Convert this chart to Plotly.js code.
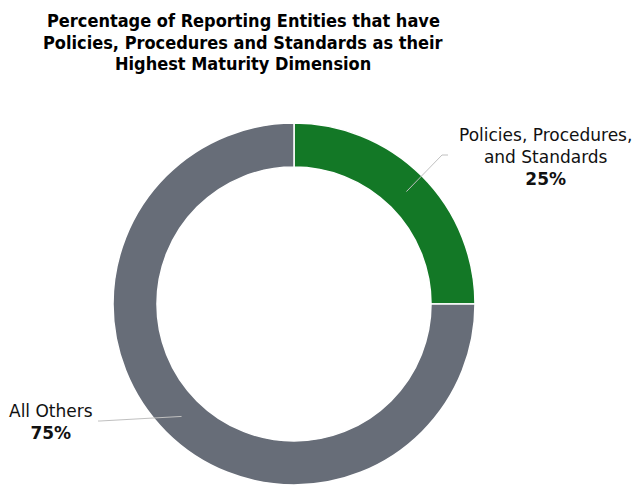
<!DOCTYPE html>
<html>
<head>
<meta charset="utf-8">
<script src="https://cdn.plot.ly/plotly-3.0.1.min.js"></script>
<style>html,body{margin:0;padding:0;background:#fff;}#chart{width:633px;height:485px;}</style>
</head>
<body>
<div id="chart"></div>
<script>
// Data
const categories = ["Policies, Procedures,<br>and Standards", "All Others"];
const values = [25, 75];
const valueLabels = ["25%", "75%"];
const colors = ["#137826", "#676d78"];
const titleLines = [
  "Percentage of Reporting Entities that have",
  "Policies, Procedures and Standards as their",
  "Highest Maturity Dimension"
];

// Geometry (pixels)
const W = 633, H = 485;
const cx = 294, cy = 304, R = 181;
const hole = 0.757;
const px = x => x / W;
const py = y => 1 - y / H;

// slice midpoints (clockwise from 12 o'clock)
const total = values.reduce((a, b) => a + b, 0);
let acc = 0;
const mids = values.map(v => {
  const frac = (acc + v / 2) / total;
  acc += v;
  const ang = frac * 2 * Math.PI;
  const rm = R * (1 + hole) / 2;
  return [cx + rm * Math.sin(ang), cy - rm * Math.cos(ang)];
});

// label placement (style)
const labelPos = [
  {x: 545, y: 157, elbow: [442, 155], end: [448, 155]},
  {x: 51, y: 422, elbow: [100, 421], end: [98, 421]}
];

const shapes = mids.map((m, i) => {
  const L = labelPos[i];
  return {
    type: 'path', xref: 'paper', yref: 'paper',
    path: `M ${px(m[0])},${py(m[1])} L ${px(L.elbow[0])},${py(L.elbow[1])} L ${px(L.end[0])},${py(L.end[1])}`,
    line: {color: '#c0c0c0', width: 1}
  };
});

const annotations = categories.map((c, i) => ({
  xref: 'paper', yref: 'paper',
  x: px(labelPos[i].x), y: py(labelPos[i].y),
  xanchor: 'center', yanchor: 'middle',
  text: c + '<br><b>' + valueLabels[i] + '</b>',
  showarrow: false,
  align: 'center',
  font: {family: 'DejaVu Sans, Verdana, sans-serif', size: 17, color: '#111'}
}));

const titleY = [21, 42.5, 64];
titleLines.forEach((t, i) => annotations.push({
  xref: 'paper', yref: 'paper',
  x: px(243), y: py(titleY[i]),
  xanchor: 'center', yanchor: 'middle',
  text: '<b>' + t + '</b>',
  showarrow: false,
  font: {family: 'DejaVu Sans Condensed, DejaVu Sans, sans-serif', size: 18, color: '#000'}
}));

const trace = {
  type: 'pie',
  labels: categories,
  values: values,
  hole: hole,
  sort: false,
  direction: 'clockwise',
  rotation: 0,
  textinfo: 'none',
  hoverinfo: 'label+percent',
  marker: {colors: colors, line: {color: '#ffffff', width: 1.5}},
  domain: {x: [px(cx - R), px(cx + R)], y: [py(cy + R), py(cy - R)]},
  showlegend: false
};

const layout = {
  width: W, height: H,
  margin: {l: 0, r: 0, t: 0, b: 0},
  paper_bgcolor: '#fff',
  shapes: shapes,
  annotations: annotations,
  showlegend: false
};

Plotly.newPlot('chart', [trace], layout, {displayModeBar: false, staticPlot: true});
</script>
</body>
</html>
